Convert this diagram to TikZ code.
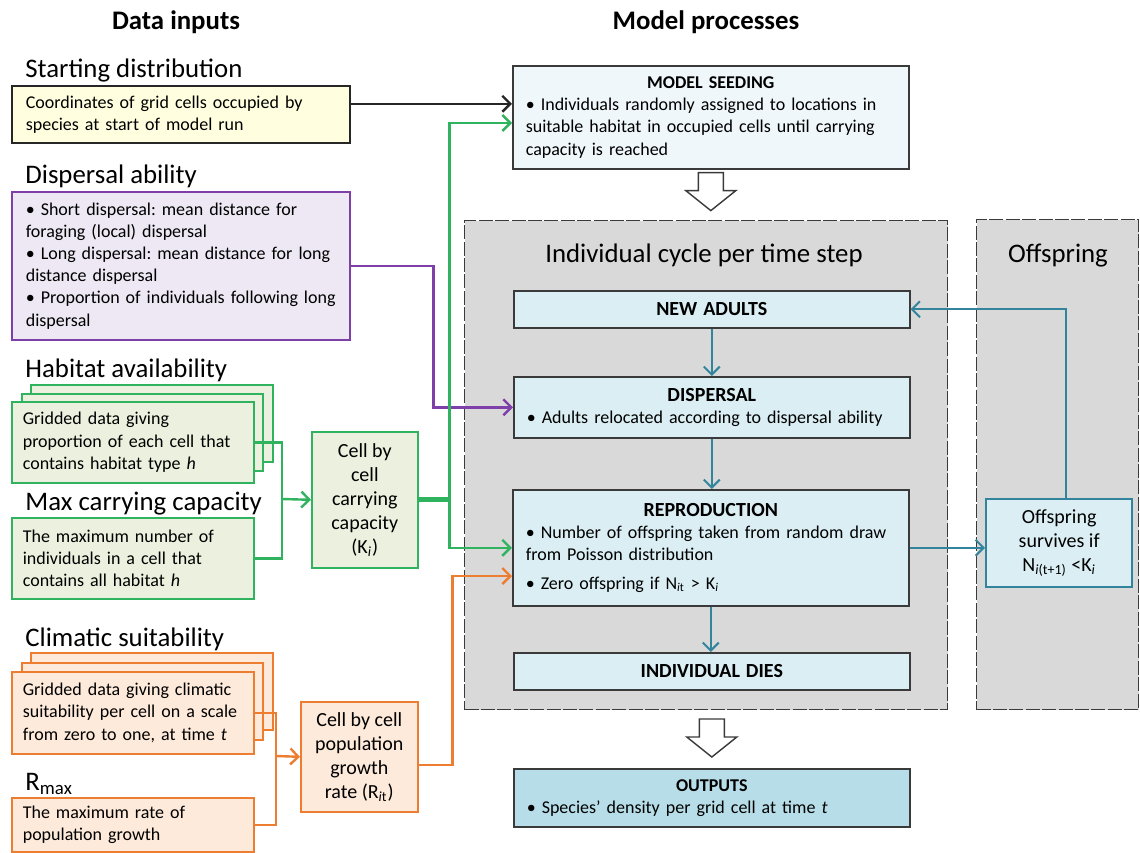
\documentclass[tikz,border=0pt]{standalone}
\usepackage{fontspec}
\setmainfont{Carlito}
\usepackage{xcolor}
\usepackage{tikz}
\usetikzlibrary{positioning,arrows.meta,calc}
\frenchspacing

\definecolor{inkgrey}{HTML}{3A3A3A}
\definecolor{panelgrey}{HTML}{D9D9D9}
\definecolor{startfill}{HTML}{FFFFE0}
\definecolor{dispfill}{HTML}{EDE8F3}
\definecolor{purpleline}{HTML}{7F3FA8}
\definecolor{greenline}{HTML}{2FB35E}
\definecolor{greenfill}{HTML}{EBF1DE}
\definecolor{orangeline}{HTML}{ED7D31}
\definecolor{orangefill}{HTML}{FDEADA}
\definecolor{tealline}{HTML}{31849B}
\definecolor{stagefill}{HTML}{DAEEF3}
\definecolor{seedfill}{HTML}{EFF7FA}
\definecolor{outfill}{HTML}{B7DEE8}

\newcommand\bodysize{\fontsize{9}{11.1}\selectfont}
\newcommand\midsize{\fontsize{10}{12}\selectfont}
\newcommand\headsize{\fontsize{13.4}{16}\selectfont}

\tikzset{
coltitle/.style={
anchor=base,
inner sep=0pt,
font=\headsize\bfseries
},
heading/.style={
anchor=base west,
inner sep=0pt,
font=\headsize
},
panel/.style={
draw=inkgrey,
fill=panelgrey,
anchor=north west,
inner sep=0pt,
line width=0.6pt,
dash pattern=on 7pt off 1.2pt
},
paneltitle/.style={
anchor=base,
inner sep=0pt,
font=\headsize
},
inputbox/.style={
draw,
anchor=north west,
line width=0.8pt,
inner xsep=7pt,
inner ysep=0pt,
align=left,
font=\bodysize
},
narrowbox/.style={
inputbox,
inner xsep=5.5pt,
text width=110pt
},
stackbox/.style={
draw,
anchor=north west,
line width=0.8pt,
inner sep=0pt
},
derivedbox/.style={
draw,
anchor=north west,
line width=0.8pt,
inner sep=2pt,
align=center,
font=\midsize
},
stagebox/.style={
draw=inkgrey,
fill=stagefill,
anchor=north west,
line width=0.8pt,
inner xsep=6.5pt,
inner ysep=0pt,
text width=185pt,
align=left,
font=\bodysize
},
link/.style={
-{Straight Barb[length=4pt,width=8pt]},
line width=1.2pt
},
blockarrow/.style={
draw=inkgrey,
fill=white,
line width=0.7pt,
line join=miter
}
}

\begin{document}
\begin{tikzpicture}[x=0.5pt,y=-0.5pt]
\useasboundingbox (0,0) rectangle (1140,852);

% column titles
\node[coltitle] (ttlin) at (176,29) {Data inputs};
\node[coltitle] (ttlmod) at (706,29) {Model processes};

% grey panels behind the cycle
\node[panel, minimum width=241.5pt, minimum height=244.5pt] (cycle) at (464,220) {};
\node[panel, minimum width=81pt, minimum height=245pt] (offpanel) at (976,219) {};
\node[paneltitle] (ttlcycle) at (704,262) {Individual cycle per time step};
\node[paneltitle] (ttloff) at (1058,262) {Offspring};

% data inputs
\node[heading] (hstart) at (25,77) {Starting distribution};
\node[inputbox, draw=black!85, fill=startfill, text width=155pt, minimum height=28.5pt] (start) at (11,85)
{Coordinates of grid cells occupied by\\species at start of model run};

\node[heading] (hdisp) at (25,183) {Dispersal ability};
\node[inputbox, draw=purpleline, fill=dispfill, text width=155pt, minimum height=74pt] (dispab) at (11,191)
{\textbullet{} Short dispersal: mean distance for\\foraging (local) dispersal\\\textbullet{} Long dispersal: mean distance for long\\distance dispersal\\\textbullet{} Proportion of individuals following long\\dispersal};

\node[heading] (hhab) at (25,377) {Habitat availability};
\node[stackbox, draw=greenline, fill=greenfill, minimum width=121pt, minimum height=38.5pt] (hab3) at (30,384) {};
\node[stackbox, draw=greenline, fill=greenfill, minimum width=120.5pt, minimum height=38.5pt] (hab2) at (21,393) {};
\node[narrowbox, draw=greenline, fill=greenfill, minimum height=40.5pt] (hab) at (11,401)
{Gridded data giving\\proportion of each cell that\\contains habitat type \textit{h}};

\node[heading] (hmax) at (25,510) {Max carrying capacity};
\node[narrowbox, draw=greenline, fill=greenfill, minimum height=40.5pt] (maxcap) at (11,517)
{The maximum number of\\individuals in a cell that\\contains all habitat \textit{h}};

\node[heading] (hclim) at (25,646) {Climatic suitability};
\node[stackbox, draw=orangeline, fill=orangefill, minimum width=121pt, minimum height=38.5pt] (clim3) at (30,652) {};
\node[stackbox, draw=orangeline, fill=orangefill, minimum width=120.5pt, minimum height=38.5pt] (clim2) at (21,662) {};
\node[narrowbox, draw=orangeline, fill=orangefill, minimum height=41pt] (clim) at (11,671)
{Gridded data giving climatic\\suitability per cell on a scale\\from zero to one, at time \textit{t}};

\node[heading] (hrmax) at (25,790) {R\textsubscript{max}};
\node[narrowbox, draw=orangeline, fill=orangefill, minimum height=27pt] (rmax) at (11,797)
{The maximum rate of\\population growth};

% cell level quantities
\node[derivedbox, draw=greenline, fill=greenfill, minimum width=53pt, minimum height=68pt] (cellK) at (311,431)
{Cell by\\cell\\carrying\\capacity\\(K\textsubscript{\textit{i}})};
\node[derivedbox, draw=orangeline, fill=orangefill, minimum width=58.5pt, minimum height=55pt] (growth) at (300,701)
{Cell by cell\\population\\growth\\rate (R\textsubscript{\textit{i}t})};

% model processes
\node[stagebox, fill=seedfill, minimum height=51.5pt] (seeding) at (512,65)
{\hfill\textbf{MODEL SEEDING}\hfill\null\\\textbullet{} Individuals randomly assigned to locations in\\suitable habitat in occupied cells until carrying\\capacity is reached};
\node[stagebox, minimum height=18.5pt] (newad) at (513,290)
{\hfill\textbf{\midsize NEW ADULTS}\hfill\null};
\node[stagebox, minimum height=30.5pt] (dispersal) at (513,376)
{\hfill\textbf{\midsize DISPERSAL}\hfill\null\\\textbullet{} Adults relocated according to dispersal ability};
\node[stagebox, minimum height=58pt] (repro) at (512,489)
{\hfill\textbf{\midsize REPRODUCTION}\hfill\null\\\textbullet{} Number of offspring taken from random draw\\from Poisson distribution\\[3pt]\textbullet{} Zero offspring if N\textsubscript{\textit{i}t} > K\textsubscript{\textit{i}}};
\node[stagebox, minimum height=18.5pt] (dies) at (513,652)
{\hfill\textbf{\midsize INDIVIDUAL DIES}\hfill\null};
\node[stagebox, fill=outfill, minimum height=29pt] (outputs) at (513,768)
{\hfill\textbf{OUTPUTS}\hfill\null\\\textbullet{} Species’ density per grid cell at time \textit{t}};

\node[derivedbox, draw=tealline, fill=stagefill, line width=1.2pt, minimum width=73pt, minimum height=44pt] (offs) at (985,498)
{Offspring\\survives if\\N\textsubscript{\textit{i}(t+1)} <K\textsubscript{\textit{i}}};

% hollow arrows into and out of the cycle
\draw[blockarrow] ([xshift=-6.25pt,yshift=-1.5pt]seeding.south) -- ++(25,0) -- ++(0,18) -- ++(12.5,0)
-- ++(-25,20) -- ++(-25,-20) -- ++(12.5,0) -- cycle;
\draw[blockarrow] ([xshift=-6.25pt,yshift=24.5pt]outputs.north) -- ++(25,0) -- ++(0,18) -- ++(12.5,0)
-- ++(-25,20) -- ++(-25,-20) -- ++(12.5,0) -- cycle;

% starting distribution
\draw[link, black!85] ([yshift=5.25pt]start.east) coordinate (s1) -- (s1 -| seeding.west);

% dispersal ability
\draw[link, purpleline] (dispab.east) -- ++(83,0) |- (dispersal.west);

% carrying capacity
\coordinate (hj) at (282,499);
\draw[line width=1.2pt, greenline] (hab.east) -| (hj) |- (maxcap.east);
\draw[link, greenline] (hj) -- (cellK.west);
\draw[line width=2.4pt, greenline] (cellK.east) -- ++(31,0) coordinate (gj);
\coordinate (g1) at (512,123);
\draw[link, greenline] (gj) |- (g1);
\draw[link, greenline] (gj) |- (repro.west);

% growth rate
\coordinate (oj) at (276,756);
\draw[line width=1.2pt, orangeline] (clim.east) -| (oj) |- (rmax.east);
\draw[link, orangeline] (oj) -- (growth.west);
\coordinate (o1) at (512,576);
\draw[link, orangeline] ([yshift=-4pt]growth.east) -- ++(34,0) |- (o1);

% the cycle itself
\foreach \a/\b in {newad/dispersal,dispersal/repro,repro/dies}
\draw[link, tealline, line width=1pt] (\a.south) -- (\a.south |- \b.north);
\draw[link, tealline, line width=1pt] (repro.east) -- (repro.east -| offs.west);
\draw[link, tealline, line width=1pt] ([xshift=3.5pt]offs.north) |- (newad.east);
\end{tikzpicture}
\end{document}
